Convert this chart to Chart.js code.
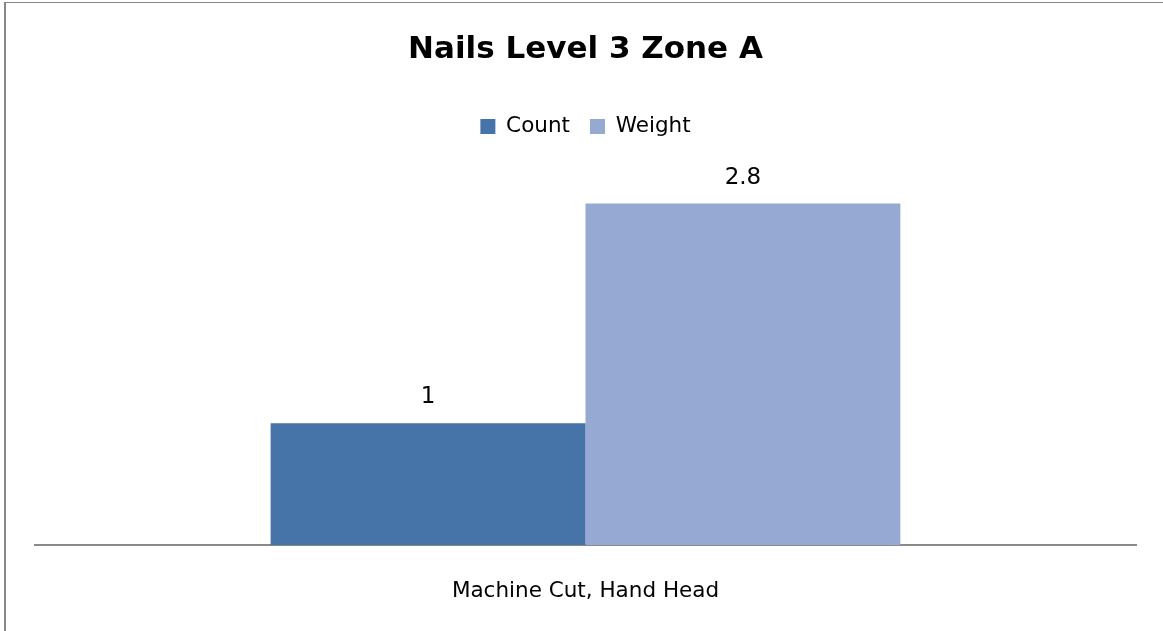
<!DOCTYPE html>
<html>
<head>
<meta charset="utf-8">
<script src="https://cdn.jsdelivr.net/npm/chart.js@4.4.0/dist/chart.umd.min.js"></script>
<style>
    html, body { margin: 0; padding: 0; background: #fff; overflow: hidden; }
    #frame {
        position: absolute; left: 4px; top: 2px; width: 1170px; height: 640px;
        border-left: 2px solid #878787; border-top: 1px solid #878787;
    }
    #wrap { position: absolute; left: 0; top: 0; width: 1163px; height: 666px; }
</style>
</head>
<body>
<div id="frame"></div>
<div id="wrap"><canvas id="chartNails"></canvas></div>
<script>
    // Chart data
    const categories = ['Machine Cut, Hand Head'];
    const countValues = [1];
    const weightValues = [2.8];
    const seriesNames = ['Count', 'Weight'];

    const FONT = "'DejaVu Sans', Verdana, sans-serif";
    Chart.defaults.font.family = FONT;
    Chart.defaults.color = '#000';

    // Value labels above each bar, taken from the dataset values
    const barValueLabels = {
        id: 'barValueLabels',
        afterDatasetsDraw(chart) {
            const ctx = chart.ctx;
            ctx.save();
            ctx.font = '23px ' + FONT;
            ctx.fillStyle = '#000';
            ctx.textAlign = 'center';
            ctx.textBaseline = 'middle';
            chart.data.datasets.forEach((ds, i) => {
                chart.getDatasetMeta(i).data.forEach((bar, j) => {
                    ctx.fillText(String(ds.data[j]), bar.x, bar.y - 26);
                });
            });
            ctx.restore();
        }
    };

    // Extra space between the legend and the plot
    const legendSpacing = {
        id: 'legendSpacing',
        beforeInit(chart) {
            const fit = chart.legend.fit;
            chart.legend.fit = function () {
                fit.bind(chart.legend)();
                this.height += 32;
            };
        }
    };

    new Chart(document.getElementById('chartNails'), {
        type: 'bar',
        data: {
            labels: categories,
            datasets: [
                {
                    label: seriesNames[0],
                    data: countValues,
                    backgroundColor: '#4674a8',
                    categoryPercentage: 0.572,
                    barPercentage: 1
                },
                {
                    label: seriesNames[1],
                    data: weightValues,
                    backgroundColor: '#95a9d2',
                    categoryPercentage: 0.572,
                    barPercentage: 1
                }
            ]
        },
        options: {
            responsive: true,
            maintainAspectRatio: false,
            animation: false,
            layout: {
                padding: { left: 35, right: 27, top: 0, bottom: 29 }
            },
            plugins: {
                title: {
                    display: true,
                    text: 'Nails Level 3 Zone A',
                    color: '#000',
                    font: { size: 31, weight: 'bold' },
                    padding: { top: 31, bottom: 27.5 }
                },
                legend: {
                    display: true,
                    position: 'top',
                    labels: {
                        boxWidth: 15,
                        boxHeight: 15,
                        padding: 20,
                        color: '#000',
                        font: { size: 21.5 }
                    }
                },
                tooltip: { enabled: false }
            },
            scales: {
                x: {
                    grid: { display: false, drawTicks: false },
                    border: { display: true, color: '#8a8a8a', width: 2 },
                    ticks: {
                        padding: 33,
                        color: '#000',
                        font: { size: 21.5 }
                    }
                },
                y: {
                    display: false,
                    min: 0,
                    max: 3
                }
            }
        },
        plugins: [barValueLabels, legendSpacing]
    });
</script>
</body>
</html>
